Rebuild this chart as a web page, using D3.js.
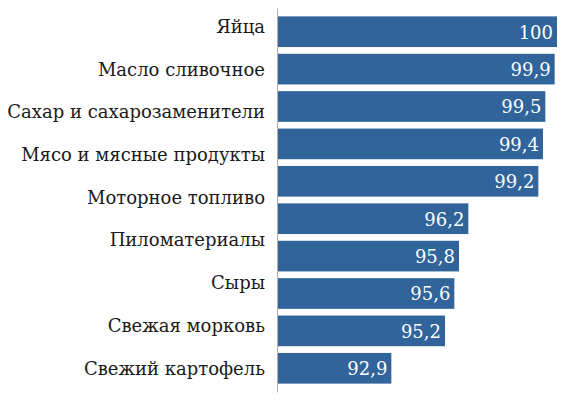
<!DOCTYPE html>
<html>
<head>
<meta charset="utf-8">
<script src="https://cdn.jsdelivr.net/npm/d3@7"></script>
<style>
  body { margin: 0; background: #fff; }
  svg { display: block; }
</style>
</head>
<body>
<div id="chart"></div>
<script>
// category labels (the picture shows 9 labels next to 10 bars)
var categories = ["Яйца", "Масло сливочное", "Сахар и сахарозаменители", "Мясо и мясные продукты",
  "Моторное топливо", "Пиломатериалы", "Сыры", "Свежая морковь", "Свежий картофель"];
var values = [100, 99.9, 99.5, 99.4, 99.2, 96.2, 95.8, 95.6, 95.2, 92.9];
var valueLabels = ["100", "99,9", "99,5", "99,4", "99,2", "96,2", "95,8", "95,6", "95,2", "92,9"];

var width = 565, height = 400;
var axisX = 277;

var svg = d3.select("#chart").append("svg")
    .attr("width", width)
    .attr("height", height);

var x = d3.scaleLinear().domain([88, 100]).range([axisX, 557]);

var y = d3.scaleBand()
    .domain(d3.range(values.length))
    .range([8, 392])
    .paddingInner(0.18)
    .paddingOuter(0.224);

// label positions (baselines)
var yLabel = d3.scalePoint()
    .domain(categories)
    .range([32.3, 374]);

// bars
svg.selectAll("rect.bar")
  .data(values)
  .enter().append("rect")
    .attr("class", "bar")
    .attr("x", axisX)
    .attr("y", function(d, i){ return y(i); })
    .attr("width", function(d){ return x(d) - axisX; })
    .attr("height", y.bandwidth())
    .attr("fill", "#30649a");

// value labels
svg.selectAll("text.val")
  .data(values)
  .enter().append("text")
    .attr("class", "val")
    .attr("x", function(d){ return x(d) - 4; })
    .attr("y", function(d, i){ return y(i) + y.bandwidth() / 2; })
    .attr("dy", "0.38em")
    .attr("text-anchor", "end")
    .attr("fill", "#fff")
    .attr("font-family", "DejaVu Serif")
    .attr("font-size", 18)
    .text(function(d, i){ return valueLabels[i]; });

// axis line
var axisLine = svg.append("g")
    .attr("transform", "translate(" + axisX + ",0)")
    .call(d3.axisLeft(y).tickSize(0).tickFormat(""));
axisLine.select(".domain").attr("stroke", "#b0b0b0");

// category labels
var labelAxis = svg.append("g")
    .attr("transform", "translate(" + axisX + ",0)")
    .call(d3.axisLeft(yLabel).tickSize(0).tickPadding(12));
labelAxis.attr("font-family", "DejaVu Serif").attr("font-size", 18);
labelAxis.select(".domain").remove();
labelAxis.selectAll("text")
    .attr("dy", 0)
    .attr("fill", "#1a1a1a");
</script>
</body>
</html>
